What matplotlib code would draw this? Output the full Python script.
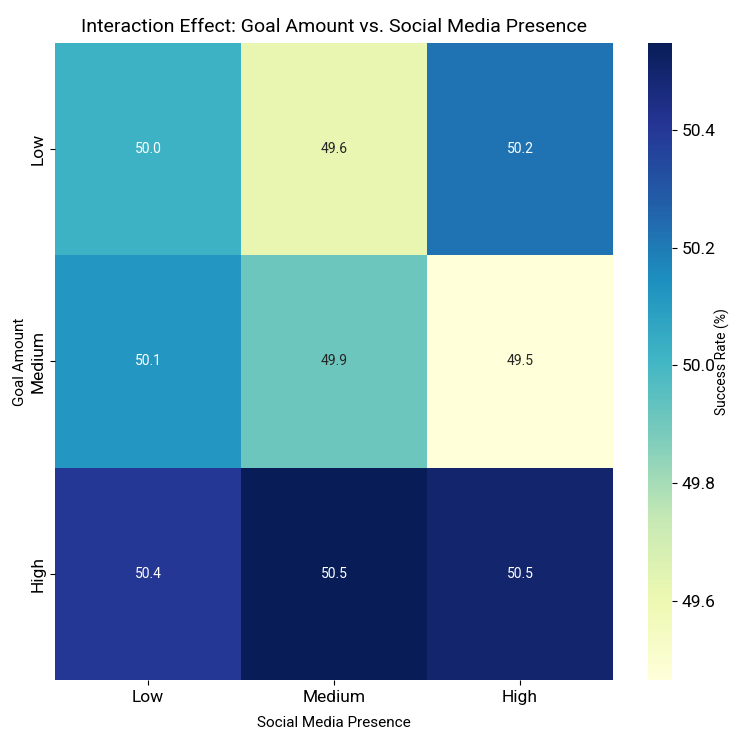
import matplotlib
matplotlib.use("Agg")
import matplotlib.pyplot as plt
import seaborn as sns
import numpy as np
import pandas as pd

goal_levels = ["Low", "Medium", "High"]
social_levels = ["Low", "Medium", "High"]
success_low = [50.02, 49.62, 50.22]
success_medium = [50.12, 49.91, 49.465]
success_high = [50.40, 50.548, 50.50]

table = pd.DataFrame([success_low, success_medium, success_high],
                     index=goal_levels, columns=social_levels)

plt.rcParams["font.family"] = ["Roboto", "DejaVu Sans"]

fig = plt.figure(figsize=(7.31, 7.34), dpi=100)
ax = fig.add_axes([0.0752, 0.0736, 0.7635, 0.868])
cax = fig.add_axes([0.8865, 0.0736, 0.033, 0.868])

sns.heatmap(table, annot=True, fmt=".1f", cmap="YlGnBu", ax=ax, cbar_ax=cax,
            annot_kws={"fontsize": 10},
            cbar_kws={"label": "Success Rate (%)"})

ax.set_title("Interaction Effect: Goal Amount vs. Social Media Presence", fontsize=14, pad=8)
ax.set_xlabel("Social Media Presence", fontsize=11, labelpad=8)
ax.set_ylabel("Goal Amount", fontsize=11, labelpad=2)
ax.tick_params(axis="both", labelsize=12.5)
cax.tick_params(labelsize=12.5)
cax.set_ylabel("Success Rate (%)", fontsize=10, labelpad=-1)

fig.savefig("out.png", dpi=100)
